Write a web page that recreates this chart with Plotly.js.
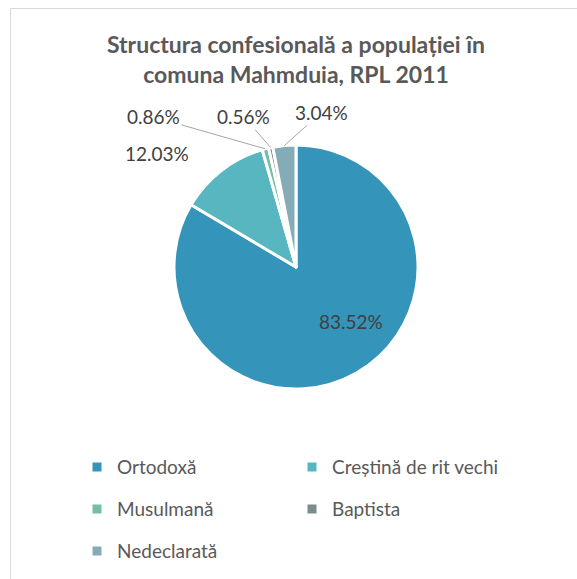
<!DOCTYPE html>
<html><head><meta charset="utf-8">
<script src="https://cdn.plot.ly/plotly-3.0.1.min.js"></script>
<style>html,body{margin:0;padding:0;background:#fff}#chart{width:577px;height:579px}</style>
</head><body><div id="chart"></div>
<script>
const categories = ['Ortodoxă', 'Creștină de rit vechi', 'Musulmană', 'Baptista', 'Nedeclarată'];
const values = [83.52, 12.03, 0.86, 0.56, 3.04];
const colors = ['#3494BA', '#58B6C0', '#75BDA7', '#7A8C8E', '#84ACB6'];

const W = 577, H = 579;
const cx = 296, cy = 267, R = 122;
const total = values.reduce((a, b) => a + b, 0);
let cum = 0;
const mids = values.map(v => { const m = (cum + v / 2) / total * 2 * Math.PI; cum += v; return m; });
function edge(i) {
  const t = mids[i];
  return { x: (cx + R * Math.sin(t)) / W, y: 1 - (cy - R * Math.cos(t)) / H };
}
const fmt = v => v.toFixed(2) + '%';
const labelFont = { family: 'Lato, sans-serif', size: 19, color: '#404040' };

const annotations = [];
annotations.push({ xref: 'paper', yref: 'paper', x: 351 / W, y: 1 - 321 / H, text: fmt(values[0]),
  xanchor: 'center', yanchor: 'middle', showarrow: false, font: labelFont });
let e = edge(1);
annotations.push({ xref: 'paper', yref: 'paper', x: e.x, y: e.y, text: fmt(values[1]),
  xanchor: 'center', yanchor: 'middle', showarrow: false, xshift: -64, yshift: 17, font: labelFont });
const offs = { 2: [-112, -32], 3: [-27, -31], 4: [37, -33] };
[2, 3, 4].forEach(i => {
  const p = edge(i);
  annotations.push({ xref: 'paper', yref: 'paper', x: p.x, y: p.y, text: fmt(values[i]),
    showarrow: true, arrowhead: 0, arrowwidth: 1, arrowcolor: '#A6A6A6', standoff: 0,
    ax: offs[i][0], ay: offs[i][1], font: labelFont });
});

const data = [{
  type: 'pie',
  labels: categories.map(c => '<span style="font-size:19px;baseline-shift:5px">' + c + '</span>'),
  values: values,
  sort: false,
  direction: 'clockwise',
  rotation: 0,
  textinfo: 'none',
  hoverinfo: 'skip',
  marker: { colors: colors, line: { color: '#FFFFFF', width: 3 } },
  domain: { x: [(cx - R) / W, (cx + R) / W], y: [1 - (cy + R) / H, 1 - (cy - R) / H] }
}];

const layout = {
  width: W, height: H,
  margin: { l: 0, r: 0, t: 0, b: 0, autoexpand: false },
  paper_bgcolor: '#FFFFFF',
  font: { family: 'Lato, sans-serif', color: '#595959' },
  title: {
    text: '<b>Structura confesională a populației în<br>comuna Mahmduia, RPL 2011</b>',
    x: 296 / W, xanchor: 'center', y: 1 - 53 / H, yanchor: 'middle',
    font: { family: 'Lato, sans-serif', size: 23, color: '#595959' }
  },
  showlegend: true,
  legend: {
    orientation: 'h', x: 77 / W, xanchor: 'left', y: 1 - 441 / H, yanchor: 'top',
    entrywidth: 170, entrywidthmode: 'pixels', traceorder: 'normal',
    font: { family: 'Lato, sans-serif', size: 30, color: '#595959' }
  },
  annotations: annotations,
  shapes: [{ type: 'rect', xref: 'paper', yref: 'paper', x0: 10.5 / W, x1: 1.2, y0: -0.2, y1: 1 - 8.5 / H,
    line: { color: '#D9D9D9', width: 1 }, fillcolor: 'rgba(0,0,0,0)', layer: 'below' }]
};

Plotly.newPlot('chart', data, layout, { displayModeBar: false, staticPlot: true });
</script>
</body></html>
